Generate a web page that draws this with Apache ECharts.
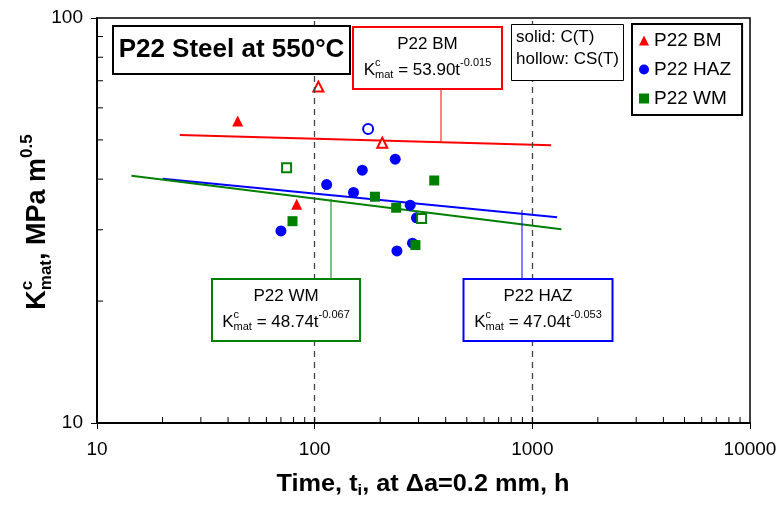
<!DOCTYPE html>
<html><head><meta charset="utf-8">
<script src="https://cdn.jsdelivr.net/npm/echarts@6/dist/echarts.min.js"></script>
<style>html,body{margin:0;padding:0;background:#fff}#c{width:780px;height:505px}</style>
</head><body><div id="c"></div>
<script>
// ---------- data ----------
const xTickLabels = [10, 100, 1000, 10000];
const yTickLabels = [10, 100];
const xMinorTicks = [20,30,40,50,60,70,80,90,200,300,400,500,600,700,800,900,2000,3000,4000,5000,6000,7000,8000,9000];
const yMinorTicks = [20,30,40,50,60,70,80,90];
const xMajorInner = [100, 1000];
const refLines = [100, 1000];

// [time t_i (h), K^c_mat (MPa m^0.5), 1 = solid C(T), 0 = hollow CS(T)]
const bmPoints  = [[44.3,55.7,1],[82.7,34.7,1],[104,67.7,0],[204.5,49.2,0]];
const hazPoints = [[176,53.2,0],[234.5,44.8,1],[165.5,42.1,1],[113.5,38.8,1],[150.8,37.1,1],
                   [274.7,34.5,1],[293.6,32.1,1],[70,29.8,1],[281.4,27.8,1],[238.8,26.6,1]];
const wmPoints  = [[74.3,42.7,0],[310,32.0,0],[354.3,39.7,1],[189.2,36.2,1],[236.8,34.0,1],
                   [79.1,31.5,1],[290.4,27.5,1]];
// fitted power-law lines, end points
const bmFit  = [[24,51.4],[1220,48.5]];
const hazFit = [[20,40.1],[1300,32.2]];
const wmFit  = [[14.4,40.8],[1360,30.1]];

const RED = '#ff0000', BLUE = '#0000ff', GREEN = '#008000';
const FF = '"Liberation Sans", Arial, Helvetica, sans-serif';

// ---------- text helpers ----------
const ctx = document.createElement('canvas').getContext('2d');
function tw(t, s, bold){ ctx.font = (bold?'bold ':'') + s + 'px ' + FF; return ctx.measureText(t).width; }
function layoutParts(parts, bold){
  let x = 0, holdX = null, holdW = 0; const out = [];
  for (const p of parts){
    const w = tw(p.t, p.s, bold);
    if (holdX !== null){ out.push(Object.assign({}, p, {x: holdX})); x = holdX + Math.max(holdW, w); holdX = null; }
    else { out.push(Object.assign({}, p, {x: x})); if (p.hold){ holdX = x; holdW = w; } else x += w; }
  }
  return {items: out, width: x};
}
function textGroup(parts, cx, cy, color, bold, extra){
  const L = layoutParts(parts, bold);
  const x0 = -L.width/2;
  return Object.assign({
    type:'group', x:cx, y:cy, z:120, silent:true,
    children: L.items.map(it => ({
      type:'text', x: x0 + it.x, y: it.dy || 0, z:120,
      style:{text: it.t, font: (bold?'bold ':'') + it.s + 'px ' + FF, fill: color,
             textAlign:'left', textVerticalAlign:'middle', align:'left', verticalAlign:'middle'}
    }))
  }, extra || {});
}
function eqParts(coef, expo){
  return [
    {t:'K', s:17},
    {t:'c', s:11, dy:-7, hold:true},
    {t:'mat', s:11, dy:5},
    {t:' = ' + coef + 't', s:17},
    {t:expo, s:11, dy:-7}
  ];
}
function box(x, y, w, h, color, lw){
  return {type:'rect', z:110, silent:true, shape:{x:x, y:y, width:w, height:h},
          style:{fill:'#fff', stroke:color, lineWidth:lw}};
}
function vline(x, y1, y2, color){
  return {type:'line', z:105, silent:true, shape:{x1:x, y1:y1, x2:x, y2:y2},
          style:{stroke:color, lineWidth:1}};
}

// ---------- series helpers ----------
function pts(arr, color, size){
  return arr.map(p => p[2] ? {value:[p[0], p[1]]}
    : {value:[p[0], p[1]], symbolSize:size-1, itemStyle:{color:'#fff', borderColor:color, borderWidth:2, opacity:1}});
}
function tickSeries(data, dir, len){
  return {
    type:'custom', silent:true, clip:false, z:6,
    data: data.map(v => dir === 'x' ? [v, 10] : [10, v]),
    renderItem: function(params, api){
      const p = api.coord([api.value(0), api.value(1)]);
      const shape = dir === 'x' ? {x1:p[0], y1:p[1], x2:p[0], y2:p[1]-len}
                                : {x1:p[0], y1:p[1], x2:p[0]+len, y2:p[1]};
      return {type:'line', shape: shape, style:{stroke:'#000', lineWidth:1}};
    }
  };
}

const chart = echarts.init(document.getElementById('c'), null, {renderer:'canvas'});
const labelFmt = v => String(Math.round(v));

const option = {
  animation:false,
  backgroundColor:'#fff',
  grid:{left:97, top:18, width:653, height:405, show:true, borderColor:'#000', borderWidth:1.5},
  xAxis:{type:'log', logBase:10, min:10, max:10000,
    axisLine:{onZero:false, lineStyle:{color:'#000', width:2}},
    axisTick:{show:true, length:6, lineStyle:{color:'#000', width:1}},
    axisLabel:{color:'#000', fontSize:19, fontFamily:FF, margin:17, formatter:labelFmt},
    splitLine:{show:false}},
  yAxis:{type:'log', logBase:10, min:10, max:100,
    axisLine:{onZero:false, lineStyle:{color:'#000', width:2}},
    axisTick:{show:true, length:6, lineStyle:{color:'#000', width:1}},
    axisLabel:{color:'#000', fontSize:19, fontFamily:FF, margin:14, formatter:labelFmt},
    splitLine:{show:false}},
  legend:{
    left:632, top:24, orient:'vertical',
    data:[{name:'P22 BM', icon:'triangle'},{name:'P22 HAZ', icon:'circle'},{name:'P22 WM', icon:'rect'}],
    itemWidth:10, itemHeight:10, itemGap:10, itemTextGap:6,
    padding:[7, 11, 7, 7],
    borderColor:'#000', borderWidth:2, backgroundColor:'#fff',
    textStyle:{color:'#000', fontSize:19, fontFamily:FF},
    selectedMode:false, z:110
  },
  series:[
    {name:'P22 BM fit', type:'line', data:bmFit, showSymbol:false, symbol:'none', z:3,
     lineStyle:{color:RED, width:2}, silent:true,
     markLine:{silent:true, symbol:['none','none'], label:{show:false},
       lineStyle:{color:'#444', type:[6,5], width:1.3},
       data: refLines.map(v => ({xAxis:v}))}},
    {name:'P22 HAZ fit', type:'line', data:hazFit, showSymbol:false, symbol:'none', z:3,
     lineStyle:{color:BLUE, width:2}, silent:true},
    {name:'P22 WM fit', type:'line', data:wmFit, showSymbol:false, symbol:'none', z:3,
     lineStyle:{color:GREEN, width:2}, silent:true},
    {name:'P22 BM', type:'scatter', symbol:'triangle', symbolSize:11, itemStyle:{color:RED, opacity:1}, z:4,
     data: pts(bmPoints, RED, 11)},
    {name:'P22 HAZ', type:'scatter', symbol:'circle', symbolSize:11, itemStyle:{color:BLUE, opacity:1}, z:4,
     data: pts(hazPoints, BLUE, 11)},
    {name:'P22 WM', type:'scatter', symbol:'rect', symbolSize:10, itemStyle:{color:GREEN, opacity:1}, z:4,
     data: pts(wmPoints, GREEN, 10)},
    tickSeries(xMinorTicks, 'x', 6),
    tickSeries(xMajorInner, 'x', 6),
    tickSeries(yMinorTicks, 'y', 6)
  ],
  graphic:[
    // title box
    box(113, 26, 237, 48, '#000', 2),
    textGroup([{t:'P22 Steel at 550°C', s:26}], 231.5, 50, '#000', true),
    // BM box
    vline(441, 89, 141, RED),
    box(353, 27, 149, 62, RED, 2),
    textGroup([{t:'P22 BM', s:17}], 427.5, 44, '#000', false),
    textGroup(eqParts('53.90', '-0.015'), 427.5, 70, '#000', false),
    // solid / hollow note
    box(511.5, 24.5, 112, 56, '#000', 1),
    {type:'text', z:120, silent:true, x:516, y:37,
     style:{text:'solid: C(T)', font:'17px ' + FF, fill:'#000', textAlign:'left', textVerticalAlign:'middle', align:'left', verticalAlign:'middle'}},
    {type:'text', z:120, silent:true, x:516, y:59,
     style:{text:'hollow: CS(T)', font:'17px ' + FF, fill:'#000', textAlign:'left', textVerticalAlign:'middle', align:'left', verticalAlign:'middle'}},
    // WM box
    vline(331, 199, 279, GREEN),
    box(212, 279, 148, 62, GREEN, 2),
    textGroup([{t:'P22 WM', s:17}], 286, 296, '#000', false),
    textGroup(eqParts('48.74', '-0.067'), 286, 322, '#000', false),
    // HAZ box
    vline(522, 210, 279, BLUE),
    box(463.5, 279, 149, 62, BLUE, 2),
    textGroup([{t:'P22 HAZ', s:17}], 538, 296, '#000', false),
    textGroup(eqParts('47.04', '-0.053'), 538, 322, '#000', false),
    // axis titles
    textGroup([
      {t:'Time, t', s:23}, {t:'i', s:15, dy:6}, {t:', at ', s:23}, {t:'Δ', s:23}, {t:'a=0.2 mm, h', s:23}
    ], 423, 485, '#000', true, {scaleX:1.1}),
    textGroup([
      {t:'K', s:27}, {t:'c', s:17, dy:-11, hold:true}, {t:'mat', s:17, dy:8},
      {t:', MPa m', s:27}, {t:'0.5', s:17, dy:-11}
    ], 38, 222, '#000', true, {rotation: Math.PI/2})
  ]
};
chart.setOption(option);
</script>
</body></html>
